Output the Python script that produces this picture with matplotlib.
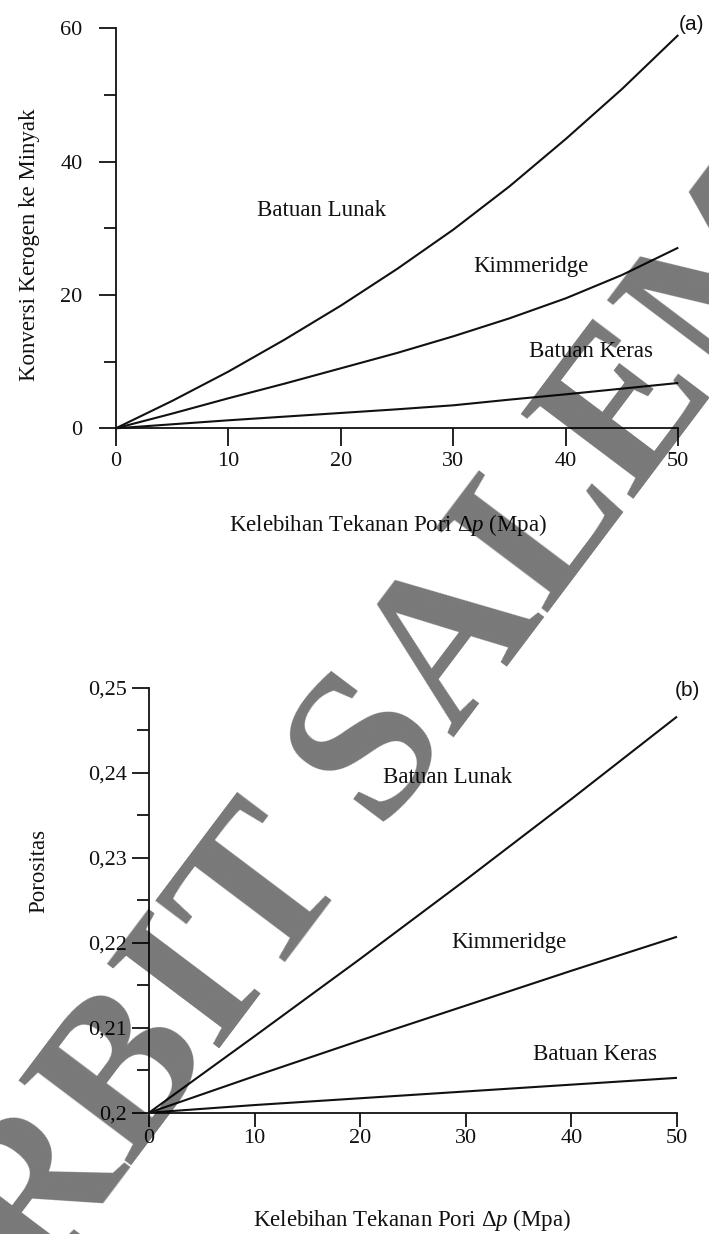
import matplotlib
matplotlib.use('Agg')
import matplotlib.pyplot as plt
from matplotlib.ticker import FixedLocator

# ---------------- data ----------------
pressure_a = [0, 5, 10, 15, 20, 25, 30, 35, 40, 45, 50]
conv_lunak = [0, 4.1, 8.5, 13.3, 18.4, 23.9, 29.8, 36.3, 43.4, 50.9, 59.0]
conv_kimm = [0, 2.2, 4.5, 6.7, 9.0, 11.3, 13.8, 16.5, 19.5, 23.0, 27.1]
conv_keras = [0, 0.6, 1.2, 1.75, 2.3, 2.85, 3.45, 4.3, 5.1, 5.95, 6.8]

pressure_b = [0, 10, 20, 30, 40, 50]
por_lunak = [0.2, 0.2090, 0.2181, 0.2274, 0.2369, 0.2466]
por_kimm = [0.2, 0.2043, 0.2085, 0.2126, 0.2167, 0.2207]
por_keras = [0.2, 0.2009, 0.2017, 0.2025, 0.2033, 0.2041]

curve_names = ['Batuan Lunak', 'Kimmeridge', 'Batuan Keras']

xticks = [0, 10, 20, 30, 40, 50]
yticks_a = [0, 20, 40, 60]
yminor_a = [10, 30, 50]
yticks_b = [0.20, 0.21, 0.22, 0.23, 0.24, 0.25]
yticklabels_b = ['0,2', '0,21', '0,22', '0,23', '0,24', '0,25']
yminor_b = [0.205, 0.215, 0.225, 0.235, 0.245]

xlabel = 'Kelebihan Tekanan Pori Δ$p$ (Mpa)'
ylabel_a = 'Konversi Kerogen ke Minyak'
ylabel_b = 'Porositas'
watermark = 'PENERBIT SALEMBA'

# ---------------- style ----------------
plt.rcParams['font.family'] = ['Liberation Serif', 'DejaVu Serif']
plt.rcParams['mathtext.fontset'] = 'custom'
plt.rcParams['mathtext.rm'] = 'Liberation Serif'
plt.rcParams['mathtext.it'] = 'Liberation Serif:italic'

W, H = 709, 1234
fig = plt.figure(figsize=(W / 100, H / 100), dpi=100)

def frac(px, py):
    return px / W, 1 - py / H

LW = 1.5
SP = 1.3
FS = 16.5
TFS = 16

def style_axes(ax):
    for s in ['top', 'right']:
        ax.spines[s].set_visible(False)
    for s in ['left', 'bottom']:
        ax.spines[s].set_linewidth(SP)
        ax.spines[s].set_color('#111111')

# ---------------- panel (a) ----------------
l, b = frac(115.8, 428.3)
r, t = frac(678.3, 28.3)
axa = fig.add_axes([l, b, r - l, t - b])
style_axes(axa)
for yv in (conv_lunak, conv_kimm, conv_keras):
    axa.plot(pressure_a, yv, color='#111111', lw=LW, clip_on=False, solid_capstyle='butt')
axa.set_xlim(0, 50)
axa.set_ylim(0, 60)
axa.set_xticks(xticks)
axa.set_xticklabels([str(v) for v in xticks])
axa.set_yticks(yticks_a)
axa.set_yticklabels([str(v) for v in yticks_a])
axa.yaxis.set_minor_locator(FixedLocator(yminor_a))
axa.tick_params(axis='x', which='major', direction='out', length=13, width=SP, labelsize=TFS, pad=4, colors='#111111')
axa.tick_params(axis='y', which='major', direction='out', length=12, width=SP, labelsize=TFS, pad=12, colors='#111111')
axa.tick_params(axis='y', which='minor', direction='out', length=8.5, width=SP, colors='#111111')

axa.text(18.3, 32.6, curve_names[0], ha='center', va='center', fontsize=FS, color='#111111')
axa.text(36.9, 24.2, curve_names[1], ha='center', va='center', fontsize=FS, color='#111111')
axa.text(42.2, 11.5, curve_names[2], ha='center', va='center', fontsize=FS, color='#111111')
axa.text(51.2, 60.6, '(a)', ha='center', va='center', fontsize=15,
         family=['Liberation Sans', 'DejaVu Sans'], color='#111111', clip_on=False)

fig.text(*frac(29.4, 245), ylabel_a, rotation=90, ha='center', va='center', fontsize=FS, color='#111111')
fig.text(*frac(388, 525), xlabel, ha='center', va='center', fontsize=FS, color='#111111')

# ---------------- panel (b) ----------------
l, b = frac(149, 1112.7)
r, t = frac(677, 687.7)
axb = fig.add_axes([l, b, r - l, t - b])
style_axes(axb)
for yv in (por_lunak, por_kimm, por_keras):
    axb.plot(pressure_b, yv, color='#111111', lw=LW, clip_on=False, solid_capstyle='butt')
axb.set_xlim(0, 50)
axb.set_ylim(0.2, 0.25)
axb.set_xticks(xticks)
axb.set_xticklabels([str(v) for v in xticks])
axb.set_yticks(yticks_b)
axb.set_yticklabels(yticklabels_b)
axb.yaxis.set_minor_locator(FixedLocator(yminor_b))
axb.tick_params(axis='x', which='major', direction='out', length=10, width=SP, labelsize=TFS, pad=2, colors='#111111')
axb.tick_params(axis='y', which='major', direction='out', length=12, width=SP, labelsize=TFS, pad=4, colors='#111111')
axb.tick_params(axis='y', which='minor', direction='out', length=8.5, width=SP, colors='#111111')

axb.text(28.3, 0.2394, curve_names[0], ha='center', va='center', fontsize=FS, color='#111111')
axb.text(34.1, 0.2200, curve_names[1], ha='center', va='center', fontsize=FS, color='#111111')
axb.text(42.2, 0.2068, curve_names[2], ha='center', va='center', fontsize=FS, color='#111111')
axb.text(51.0, 0.2497, '(b)', ha='center', va='center', fontsize=15,
         family=['Liberation Sans', 'DejaVu Sans'], color='#111111', clip_on=False)

fig.text(*frac(38.5, 871), ylabel_b, rotation=90, ha='center', va='center', fontsize=FS, color='#111111')
fig.text(*frac(412, 1220), xlabel, ha='center', va='center', fontsize=FS, color='#111111')

# ---------------- watermark ----------------
fig.text(*frac(315, 837), watermark, rotation=53, rotation_mode='anchor',
         ha='center', va='center', fontsize=154, fontweight='bold',
         family=['Liberation Serif', 'DejaVu Serif'], color='black', alpha=0.53, zorder=20)

fig.savefig('out.png', dpi=100)
